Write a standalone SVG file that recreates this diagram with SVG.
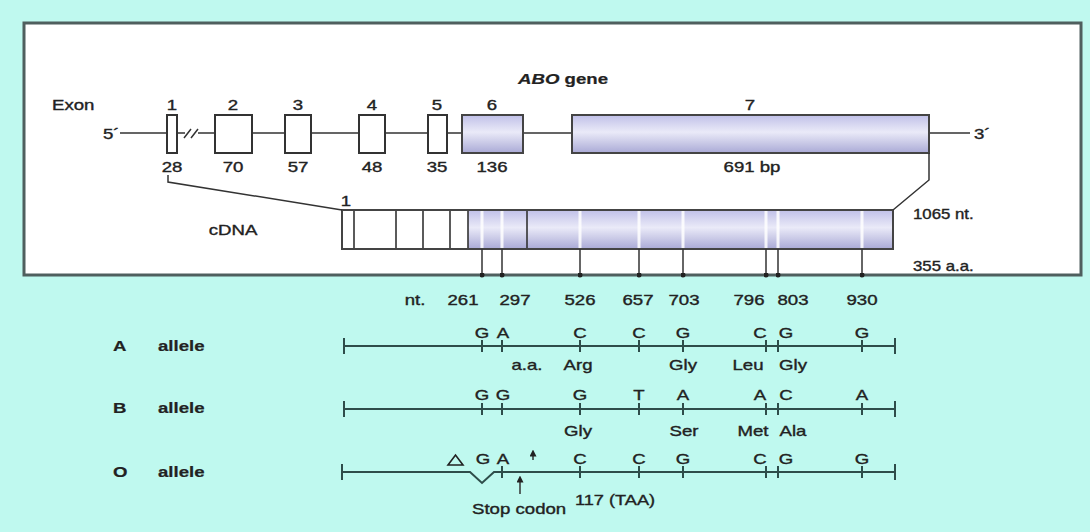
<svg xmlns="http://www.w3.org/2000/svg" width="1090" height="532" viewBox="0 0 1090 532">
<defs>
<linearGradient id="lav" x1="0" y1="0" x2="0" y2="1">
<stop offset="0" stop-color="#c0c0e8"/>
<stop offset="0.45" stop-color="#eaeaf8"/>
<stop offset="1" stop-color="#aaaad6"/>
</linearGradient>
<marker id="dot" viewBox="0 0 10 10" refX="5" refY="5" markerWidth="5" markerHeight="5" markerUnits="userSpaceOnUse">
<circle cx="5" cy="5" r="5" fill="#222"/>
</marker>
<marker id="arr" viewBox="0 0 10 10" refX="5" refY="5" markerWidth="7" markerHeight="7" orient="auto" markerUnits="userSpaceOnUse">
<path d="M0,0 L10,5 L0,10 z" fill="#222"/>
</marker>
</defs>
<style>
.t{font-family:"Liberation Sans",Arial,sans-serif;font-size:14px;fill:#222;stroke:#222;stroke-width:0.35}
.m{text-anchor:middle}
.b{font-weight:bold;stroke-width:0.2}
.ln{stroke:#333;stroke-width:1.5;fill:none}
.ex{fill:#fff;stroke:#333;stroke-width:2}
.exf{fill:url(#lav);stroke:#444;stroke-width:2}
.wl{stroke:#fff;stroke-width:3;opacity:0.85}
.dl{stroke:#333;stroke-width:1.6}
.al{stroke:#2e4d4a;stroke-width:2;fill:none}
.tk{stroke:#2e4d4a;stroke-width:2}
.cn{stroke:#333;stroke-width:1.5;fill:none}
</style>
<rect width="1090" height="532" fill="#bff9ef"/>
<rect x="24" y="23" width="1057" height="252" fill="#fff" stroke="#4f5f5e" stroke-width="3"/>

<g id="gene">
<text class="t b m" transform="translate(563,84) scale(1.33,1)"><tspan font-style="italic">ABO</tspan> gene</text>
<text class="t" transform="translate(52,110) scale(1.33,1)">Exon</text>
<text class="t" transform="translate(103,139) scale(1.33,1)">5´</text>
<text class="t" transform="translate(974,139) scale(1.33,1)">3´</text>
<path class="ln" d="M120,133 H167 M177,133 H185 M198,133 H215 M252,133 H285 M311,133 H358 M385,133 H427 M447,133 H462 M523,133 H572 M929,133 H970"/>
<path class="ln" d="M184,138 L191,129 M191,138 L198,129"/>
</g>

<g id="exon1"><rect class="ex" x="167" y="115" width="10" height="38"/>
<text class="t m" transform="translate(172,110) scale(1.33,1)">1</text>
<text class="t m" transform="translate(172,172) scale(1.33,1)">28</text></g>
<g id="exon2"><rect class="ex" x="215" y="115" width="37" height="38"/>
<text class="t m" transform="translate(233,110) scale(1.33,1)">2</text>
<text class="t m" transform="translate(233,172) scale(1.33,1)">70</text></g>
<g id="exon3"><rect class="ex" x="285" y="115" width="26" height="38"/>
<text class="t m" transform="translate(298,110) scale(1.33,1)">3</text>
<text class="t m" transform="translate(298,172) scale(1.33,1)">57</text></g>
<g id="exon4"><rect class="ex" x="359" y="115" width="26" height="38"/>
<text class="t m" transform="translate(372,110) scale(1.33,1)">4</text>
<text class="t m" transform="translate(372,172) scale(1.33,1)">48</text></g>
<g id="exon5"><rect class="ex" x="428" y="115" width="19" height="38"/>
<text class="t m" transform="translate(437,110) scale(1.33,1)">5</text>
<text class="t m" transform="translate(437,172) scale(1.33,1)">35</text></g>
<g id="exon6"><rect class="exf" x="462" y="115" width="61" height="38"/>
<text class="t m" transform="translate(492,110) scale(1.33,1)">6</text>
<text class="t m" transform="translate(492,172) scale(1.33,1)">136</text></g>
<g id="exon7"><rect class="exf" x="572" y="115" width="357" height="38"/>
<text class="t m" transform="translate(750,110) scale(1.33,1)">7</text>
<text class="t m" transform="translate(752,172) scale(1.33,1)">691 bp</text></g>

<g id="cdna">
<rect x="342" y="210" width="126" height="39" fill="#fff"/>
<rect x="468" y="210" width="425" height="39" fill="url(#lav)"/>
<path class="wl" d="M482,211 V248 M502,211 V248 M580,211 V248 M639,211 V248 M683,211 V248 M766,211 V248 M778,211 V248 M862,211 V248"/>
<path class="dl" d="M354,210 V249 M396,210 V249 M423,210 V249 M450,210 V249 M468,210 V249 M527,210 V249"/>
<rect x="342" y="210" width="551" height="39" fill="none" stroke="#444" stroke-width="2"/>
<text class="t m" transform="translate(346,206) scale(1.33,1)">1</text>
<text class="t m" transform="translate(233,235) scale(1.33,1)">cDNA</text>
<text class="t" transform="translate(913,219) scale(1.2,1)">1065 nt.</text>
<text class="t" transform="translate(913,271) scale(1.2,1)">355 a.a.</text>
</g>

<g id="connectors">
<path class="cn" d="M168,175 V182 L342,210"/>
<path class="cn" d="M929,153 V180 L893,210"/>
<path class="cn" marker-end="url(#dot)" d="M482,249 V275"/>
<path class="cn" marker-end="url(#dot)" d="M502,249 V275"/>
<path class="cn" marker-end="url(#dot)" d="M580,249 V275"/>
<path class="cn" marker-end="url(#dot)" d="M639,249 V275"/>
<path class="cn" marker-end="url(#dot)" d="M683,249 V275"/>
<path class="cn" marker-end="url(#dot)" d="M766,249 V275"/>
<path class="cn" marker-end="url(#dot)" d="M778,249 V275"/>
<path class="cn" marker-end="url(#dot)" d="M862,249 V275"/>
<path class="cn" marker-end="url(#arr)" d="M520,494 V479"/>
<path class="cn" stroke-width="1.2" marker-end="url(#arr)" d="M533,460 V453"/>
</g>

<g id="positions">
<text class="t m" transform="translate(415,305) scale(1.33,1)">nt.</text>
<text class="t m" transform="translate(463,305) scale(1.33,1)">261</text>
<text class="t m" transform="translate(515,305) scale(1.33,1)">297</text>
<text class="t m" transform="translate(580,305) scale(1.33,1)">526</text>
<text class="t m" transform="translate(638,305) scale(1.33,1)">657</text>
<text class="t m" transform="translate(684,305) scale(1.33,1)">703</text>
<text class="t m" transform="translate(749,305) scale(1.33,1)">796</text>
<text class="t m" transform="translate(793,305) scale(1.33,1)">803</text>
<text class="t m" transform="translate(862,305) scale(1.33,1)">930</text>
</g>

<g id="alleleA">
<text class="t b" transform="translate(113,351) scale(1.33,1)">A</text>
<text class="t b" transform="translate(158,351) scale(1.33,1)">allele</text>
<path class="al" d="M344,346 H895"/>
<path class="tk" d="M344,338 V354 M895,338 V354 M482,340 V352 M502,340 V352 M580,340 V352 M639,340 V352 M683,340 V352 M766,340 V352 M778,340 V352 M862,340 V352"/>
<text class="t m" transform="translate(482,338) scale(1.33,1)">G</text>
<text class="t m" transform="translate(503,338) scale(1.33,1)">A</text>
<text class="t m" transform="translate(580,338) scale(1.33,1)">C</text>
<text class="t m" transform="translate(639,338) scale(1.33,1)">C</text>
<text class="t m" transform="translate(683,338) scale(1.33,1)">G</text>
<text class="t m" transform="translate(760,338) scale(1.33,1)">C</text>
<text class="t m" transform="translate(786,338) scale(1.33,1)">G</text>
<text class="t m" transform="translate(862,338) scale(1.33,1)">G</text>
<text class="t m" transform="translate(527,370) scale(1.33,1)">a.a.</text>
<text class="t m" transform="translate(578,370) scale(1.33,1)">Arg</text>
<text class="t m" transform="translate(683,370) scale(1.33,1)">Gly</text>
<text class="t m" transform="translate(748,370) scale(1.33,1)">Leu</text>
<text class="t m" transform="translate(793,370) scale(1.33,1)">Gly</text>
</g>

<g id="alleleB">
<text class="t b" transform="translate(113,413) scale(1.33,1)">B</text>
<text class="t b" transform="translate(158,413) scale(1.33,1)">allele</text>
<path class="al" d="M344,409 H895"/>
<path class="tk" d="M344,401 V417 M895,401 V417 M482,403 V415 M502,403 V415 M580,403 V415 M639,403 V415 M683,403 V415 M766,403 V415 M778,403 V415 M862,403 V415"/>
<text class="t m" transform="translate(482,400) scale(1.33,1)">G</text>
<text class="t m" transform="translate(503,400) scale(1.33,1)">G</text>
<text class="t m" transform="translate(580,400) scale(1.33,1)">G</text>
<text class="t m" transform="translate(639,400) scale(1.33,1)">T</text>
<text class="t m" transform="translate(683,400) scale(1.33,1)">A</text>
<text class="t m" transform="translate(760,400) scale(1.33,1)">A</text>
<text class="t m" transform="translate(786,400) scale(1.33,1)">C</text>
<text class="t m" transform="translate(862,400) scale(1.33,1)">A</text>
<text class="t m" transform="translate(578,436) scale(1.33,1)">Gly</text>
<text class="t m" transform="translate(684,436) scale(1.33,1)">Ser</text>
<text class="t m" transform="translate(753,436) scale(1.33,1)">Met</text>
<text class="t m" transform="translate(793,436) scale(1.33,1)">Ala</text>
</g>

<g id="alleleO">
<text class="t b" transform="translate(113,477) scale(1.33,1)">O</text>
<text class="t b" transform="translate(158,477) scale(1.33,1)">allele</text>
<path class="al" d="M342,472 H470 L482,483 L494,472 H895"/>
<path class="tk" d="M342,464 V480 M895,464 V480 M502,466 V478 M580,466 V478 M639,466 V478 M683,466 V478 M766,466 V478 M778,466 V478 M862,466 V478"/>
<polygon points="448,465 463,465 455.5,455" fill="none" stroke="#222" stroke-width="1.6"/>
<text class="t m" transform="translate(483,464) scale(1.33,1)">G</text>
<text class="t m" transform="translate(503,464) scale(1.33,1)">A</text>
<text class="t m" transform="translate(580,464) scale(1.33,1)">C</text>
<text class="t m" transform="translate(639,464) scale(1.33,1)">C</text>
<text class="t m" transform="translate(683,464) scale(1.33,1)">G</text>
<text class="t m" transform="translate(760,464) scale(1.33,1)">C</text>
<text class="t m" transform="translate(786,464) scale(1.33,1)">G</text>
<text class="t m" transform="translate(862,464) scale(1.33,1)">G</text>
<text class="t" transform="translate(472,514) scale(1.33,1)">Stop codon</text>
<text class="t" transform="translate(575,505) scale(1.3,1)">117 (TAA)</text>
</g>
</svg>
